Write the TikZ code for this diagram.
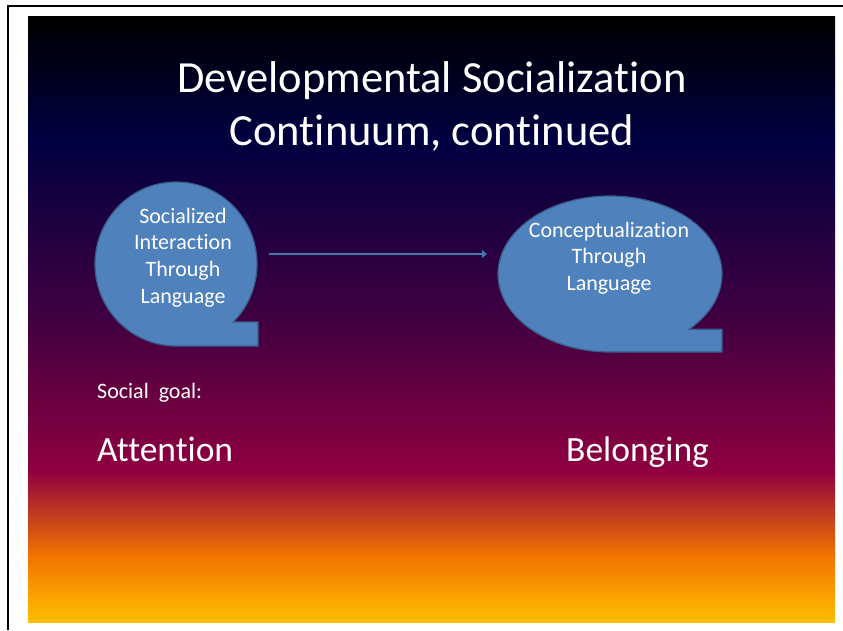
\documentclass[tikz,border=0pt]{standalone}
\usepackage{fontspec}
\setmainfont{Carlito}[Ligatures={NoCommon,NoRequired,NoContextual}]
\usetikzlibrary{arrows.meta}
\definecolor{bubfill}{HTML}{4F81BD}
\definecolor{bubline}{HTML}{385D8A}
\definecolor{arrcol}{HTML}{4576B0}
\definecolor{gA}{RGB}{0,0,0}
\definecolor{gB}{RGB}{0,0,64}
\definecolor{gC}{RGB}{64,0,64}
\definecolor{gD}{RGB}{143,0,64}
\definecolor{gE}{RGB}{242,115,0}
\definecolor{gF}{RGB}{255,191,0}
\tikzset{
  bubble/.style={fill=bubfill,draw=bubline,line width=1.2pt,line join=miter},
  bubtext/.style={text=white,align=center,inner sep=0pt,font=\fontsize{22}{26.7}\selectfont},
  titletext/.style={text=white,inner sep=0pt,font=\fontsize{44.5}{54}\selectfont},
  smalltext/.style={text=white,inner sep=0pt,font=\fontsize{22}{26}\selectfont},
  bigtext/.style={text=white,inner sep=0pt,font=\fontsize{35.5}{42}\selectfont},
  conn/.style={draw=arrcol,line width=2.3pt,-{Triangle[length=5pt,width=8pt]}},
  frameline/.style={draw=black,line width=2pt}
}
\begin{document}
\begin{tikzpicture}[x=1pt,y=-1pt]
\useasboundingbox (0,0) rectangle (843,630);
\fill[white] (0,0) rectangle (843,630);
% gradient background
\shade[top color=gA,bottom color=gB] (28,16) rectangle (835,137.6);
\shade[top color=gB,bottom color=gC] (28,137.2) rectangle (835,319.4);
\shade[top color=gC,bottom color=gD] (28,319) rectangle (835,470.9);
\shade[top color=gD,bottom color=gE] (28,470.5) rectangle (835,555.7);
\shade[top color=gE,bottom color=gF] (28,555.3) rectangle (835,622);
% frame lines
\draw[frameline] (7,5.5) -- (843,5.5);
\draw[frameline] (8,5) -- (8,630);
% title
\node[titletext,anchor=base] (t1) at (432,92) {Developmental Socialization};
\node[titletext,anchor=base] (t2) at (432,145) {Continuum, continued};
% callouts
\draw[bubble] (176,264) ++(45:81 and 82) arc[start angle=45,end angle=-270,x radius=81,y radius=82]
  -- (258,346) -- (258,322) -- cycle;
\draw[bubble] (610,274) ++(45:112 and 78) arc[start angle=45,end angle=-270,x radius=112,y radius=78]
  -- (722,352) -- (722,329.2) -- cycle;
\node[bubtext] (lt) at (183,257.5) {Socialized\\Interaction\\Through\\Language};
\node[bubtext] (rt) at (609,258) {Conceptualization\\Through\\Language};
% connector
\coordinate (as) at (269,254);
\coordinate (ae) at (487,254);
\draw[conn] (as) -- (ae);
% labels
\node[smalltext,anchor=base west] (sg) at (97,398) {Social\ \ goal:};
\node[bigtext,anchor=base west] (att) at (97,461) {Attention};
\node[bigtext,anchor=base west] (bel) at (566,461) {Belonging};
\end{tikzpicture}
\end{document}
